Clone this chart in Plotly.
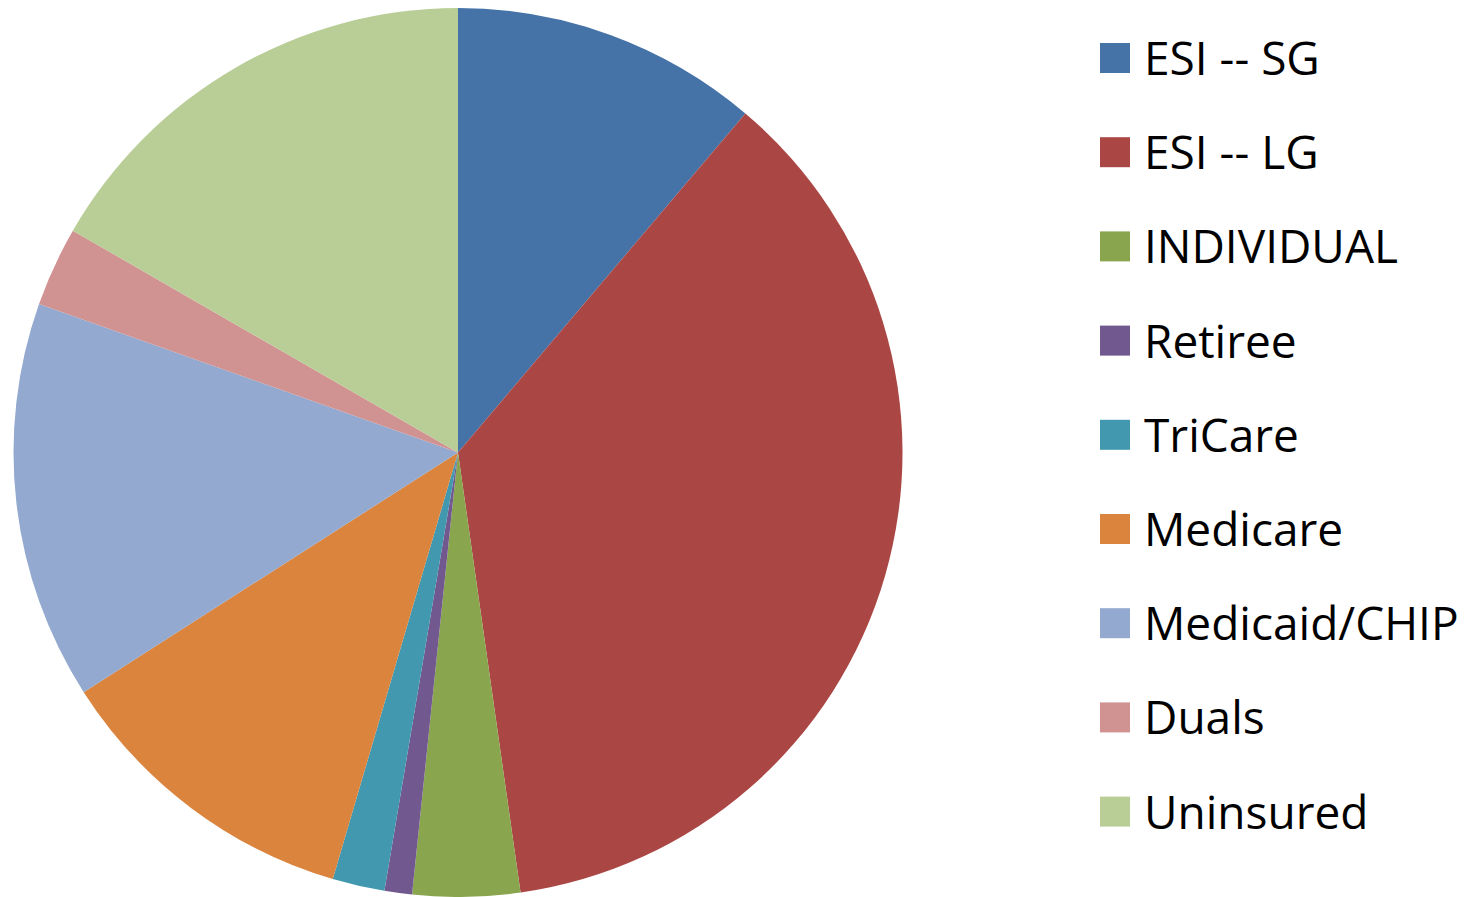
import plotly.graph_objects as go

# Coverage categories and their shares (%)
categories = ["ESI -- SG", "ESI -- LG", "INDIVIDUAL", "Retiree", "TriCare",
              "Medicare", "Medicaid/CHIP", "Duals", "Uninsured"]
shares = [11.2, 36.6, 3.9, 1.0, 1.9, 11.4, 14.5, 2.9, 16.7]
colors = ["#4572A7", "#AA4643", "#89A54E", "#71588F", "#4198AF",
          "#DB843D", "#93A9CF", "#D19392", "#B9CD96"]

W, H = 1481, 897

fig = go.Figure(go.Pie(
    labels=categories,
    values=shares,
    sort=False,
    direction="clockwise",
    rotation=0,
    marker=dict(colors=colors, line=dict(width=0)),
    textinfo="none",
    hoverinfo="label+percent",
    showlegend=False,
    domain=dict(x=[13 / W, 903 / W], y=[0, 1 - 8 / H]),
))

# Legend drawn as colour swatches with labels, one row per category
row0, step = 58, 94.2
shapes, annotations = [], []
for i, (name, col) in enumerate(zip(categories, colors)):
    yc = row0 + i * step
    shapes.append(dict(type="rect", xref="paper", yref="paper",
                       x0=1100 / W, x1=1130 / W,
                       y0=1 - (yc - 15) / H, y1=1 - (yc + 15) / H,
                       fillcolor=col, line=dict(width=0)))
    annotations.append(dict(xref="paper", yref="paper", x=1142 / W, y=1 - (yc - 1) / H,
                            xanchor="left", yanchor="middle", showarrow=False,
                            text=name, font=dict(family="Open Sans", size=46, color="#000000")))

fig.update_layout(
    width=W, height=H,
    margin=dict(l=0, r=0, t=0, b=0),
    paper_bgcolor="white",
    plot_bgcolor="white",
    shapes=shapes,
    annotations=annotations,
)

fig.write_html("out.html")
